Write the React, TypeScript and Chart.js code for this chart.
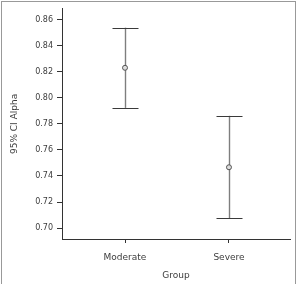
import React, { useEffect, useRef } from "react";
import { Chart, registerables } from "chart.js";

Chart.register(...registerables);

// Groups and their 95% confidence intervals for Cronbach's alpha
const groups = ["Moderate", "Severe"];
const alphaMean = [0.8231, 0.7467];
const alphaLower = [0.7923, 0.7074];
const alphaUpper = [0.8539, 0.7862];
const yTicks = [0.7, 0.72, 0.74, 0.76, 0.78, 0.8, 0.82, 0.84, 0.86];

const FONT = "'DejaVu Sans', sans-serif";
const TEXT = "#3c3c3c";

// Draws the vertical CI line and the two caps for each group
const errorBarPlugin = {
  id: "ciBars",
  beforeDatasetsDraw(chart: any) {
    const { ctx, scales } = chart;
    const x = scales.x;
    const y = scales.y;
    ctx.save();
    groups.forEach((_, i) => {
      const px = Math.round(x.getPixelForValue(i + 1)) + 0.5;
      const top = y.getPixelForValue(alphaUpper[i]);
      const bot = y.getPixelForValue(alphaLower[i]);
      ctx.strokeStyle = "#7e7e7e";
      ctx.lineWidth = 1.4;
      ctx.beginPath();
      ctx.moveTo(px, top);
      ctx.lineTo(px, bot);
      ctx.stroke();
      ctx.strokeStyle = "#3a3a3a";
      ctx.lineWidth = 1;
      ctx.beginPath();
      const ty = Math.round(top) + 0.5;
      const by = Math.round(bot) + 0.5;
      ctx.moveTo(px - 13, ty);
      ctx.lineTo(px + 13, ty);
      ctx.moveTo(px - 13, by);
      ctx.lineTo(px + 13, by);
      ctx.stroke();
    });
    ctx.restore();
  },
};

// Thin frame around the figure
const framePlugin = {
  id: "frame",
  afterDraw(chart: any) {
    const { ctx } = chart;
    ctx.save();
    ctx.strokeStyle = "#999999";
    ctx.lineWidth = 1;
    ctx.strokeRect(1.5, 1.5, 294, 300);
    ctx.restore();
  },
};

export default function App() {
  const ref = useRef<HTMLCanvasElement>(null);

  useEffect(() => {
    if (!ref.current) return;
    const chart = new Chart(ref.current, {
      type: "scatter",
      data: {
        datasets: [
          {
            data: alphaMean.map((v, i) => ({ x: i + 1, y: v })),
            pointRadius: 2.5,
            pointBorderWidth: 1,
            pointBorderColor: "#555555",
            pointBackgroundColor: "#dddddd",
          },
        ],
      },
      options: {
        animation: false,
        responsive: false,
        layout: { padding: { left: 0, top: 8, right: 9, bottom: 0 } },
        plugins: { legend: { display: false }, tooltip: { enabled: false } },
        scales: {
          x: {
            type: "linear",
            min: 0.394,
            max: 2.587,
            afterBuildTicks: (s: any) => {
              s.ticks = groups.map((_, i) => ({ value: i + 1 }));
            },
            afterFit: (s: any) => {
              s.height = 45;
            },
            ticks: {
              autoSkip: false,
              maxRotation: 0,
              padding: 9,
              color: TEXT,
              font: { family: FONT, size: 9 },
              callback: (v: any) => groups[Number(v) - 1] ?? "",
            },
            grid: {
              drawOnChartArea: false,
              tickLength: 4,
              color: "#333333",
            },
            border: { color: "#333333" },
            title: {
              display: true,
              text: "Group",
              color: TEXT,
              font: { family: FONT, size: 9 },
              padding: { top: 0, bottom: 3 },
            },
          },
          y: {
            min: 0.6916,
            max: 0.8684,
            afterBuildTicks: (s: any) => {
              s.ticks = yTicks.map((v) => ({ value: v }));
            },
            afterFit: (s: any) => {
              s.width = 62;
            },
            ticks: {
              padding: 4,
              color: TEXT,
              font: { family: FONT, size: 8 },
              callback: (v: any) => Number(v).toFixed(2),
            },
            grid: {
              drawOnChartArea: false,
              tickLength: 5,
              color: "#333333",
            },
            border: { color: "#333333" },
            title: {
              display: true,
              text: "95% CI Alpha",
              color: TEXT,
              font: { family: FONT, size: 9 },
              padding: { top: 9, bottom: 0 },
            },
          },
        },
      },
      plugins: [errorBarPlugin, framePlugin],
    });
    return () => chart.destroy();
  }, []);

  return (
    <div style={{ position: "fixed", left: 0, top: 0, width: 299, height: 284, background: "#fff" }}>
      <canvas ref={ref} width={299} height={284} style={{ display: "block" }} />
    </div>
  );
}
